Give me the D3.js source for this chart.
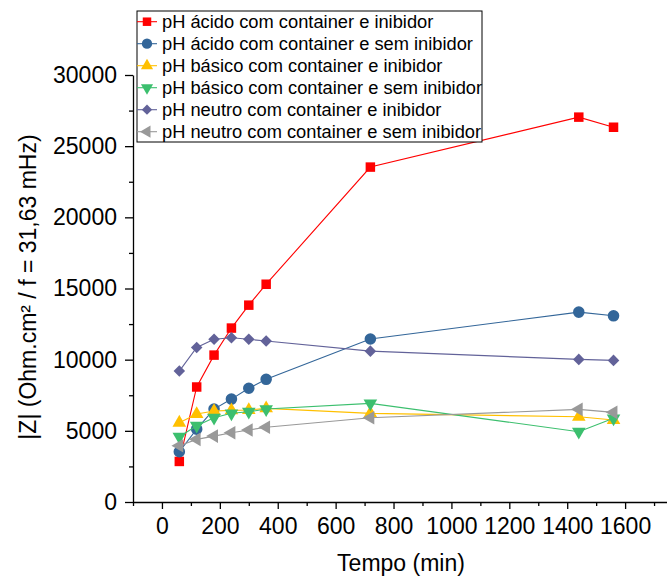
<!DOCTYPE html>
<html>
<head>
<meta charset="utf-8">
<script src="https://cdn.jsdelivr.net/npm/d3@7"></script>
<style>
  body { margin: 0; background: #fff; overflow: hidden; }
  svg { display: block; font-family: "Liberation Sans", Arial, sans-serif; }
</style>
</head>
<body>
<div id="chart-area"></div>
<script>
// dados
const tempos = [60, 120, 180, 240, 300, 360, 720, 1440, 1560];
const acidoComInibidor = [2850, 8080, 10320, 12220, 13830, 15300, 23530, 27040, 26330];
const acidoSemInibidor = [3530, 5120, 6530, 7230, 7990, 8620, 11450, 13340, 13080];
const basicoComInibidor = [5570, 6180, 6390, 6440, 6460, 6580, 6230, 5990, 5760];
const basicoSemInibidor = [4590, 5360, 5920, 6230, 6340, 6530, 6930, 4940, 5880];
const neutroComInibidor = [9200, 10860, 11430, 11540, 11430, 11310, 10600, 10020, 9950];
const neutroSemInibidor = [3950, 4400, 4630, 4870, 5060, 5250, 5920, 6510, 6300];
const xTicks = [0, 200, 400, 600, 800, 1000, 1200, 1400, 1600];
const yTicks = [0, 5000, 10000, 15000, 20000, 25000, 30000];

const series = [
    { name: 'pH ácido com container e inibidor', values: acidoComInibidor, color: '#ff0000', symbol: d3.symbolSquare, size: 90, rot: 0 },
    { name: 'pH ácido com container e sem inibidor', values: acidoSemInibidor, color: '#336699', symbol: d3.symbolCircle, size: 105, rot: 0 },
    { name: 'pH básico com container e inibidor', values: basicoComInibidor, color: '#ffc000', symbol: d3.symbolTriangle, size: 80, rot: 0 },
    { name: 'pH básico com container e sem inibidor', values: basicoSemInibidor, color: '#3cbf6e', symbol: d3.symbolTriangle, size: 80, rot: 180 },
    { name: 'pH neutro com container e inibidor', values: neutroComInibidor, color: '#626299', symbol: d3.symbolDiamond2, size: 85, rot: 0 },
    { name: 'pH neutro com container e sem inibidor', values: neutroSemInibidor, color: '#999999', symbol: d3.symbolTriangle, size: 80, rot: -90 }
];

const width = 667, height = 577;
// o eixo X continua além da borda direita, como no original
const margin = { top: 75, right: -16, bottom: 75, left: 133 };
const innerWidth = width - margin.left - margin.right;
const innerHeight = height - margin.top - margin.bottom;

const svg = d3.select('#chart-area').append('svg')
    .attr('width', width)
    .attr('height', height);

const g = svg.append('g')
    .attr('transform', `translate(${margin.left}, ${margin.top})`);

const xScale = d3.scaleLinear().domain([-100, 1800]).range([0, innerWidth]);
const yScale = d3.scaleLinear().domain([0, 30000]).range([innerHeight, 0]);

// eixo X
const axisX = g.append('g')
    .attr('transform', `translate(0, ${innerHeight})`)
    .call(d3.axisBottom(xScale).tickValues(xTicks).tickSize(7).tickPadding(9).tickSizeOuter(0).tickFormat(d3.format('d')));
axisX.selectAll('text').attr('font-size', '23px').attr('fill', '#000');
axisX.selectAll('line, path').attr('stroke', '#000').attr('stroke-width', 1.3);
// ticks menores X
g.append('g')
    .attr('transform', `translate(0, ${innerHeight})`)
    .call(d3.axisBottom(xScale).tickValues(d3.range(-100, 1800, 200)).tickSize(4).tickFormat(''))
    .call(a => a.select('.domain').remove())
    .call(a => a.selectAll('text').remove())
    .selectAll('line').attr('stroke', '#000').attr('stroke-width', 1.3);

// eixo Y
const axisY = g.append('g')
    .call(d3.axisLeft(yScale).tickValues(yTicks).tickSize(8).tickPadding(8).tickSizeOuter(0).tickFormat(d3.format('d')));
axisY.selectAll('text').attr('font-size', '23px').attr('fill', '#000');
axisY.selectAll('line, path').attr('stroke', '#000').attr('stroke-width', 1.3);
// ticks menores Y
g.append('g')
    .call(d3.axisLeft(yScale).tickValues(d3.range(2500, 30000, 5000)).tickSize(4).tickFormat(''))
    .call(a => a.select('.domain').remove())
    .call(a => a.selectAll('text').remove())
    .selectAll('line').attr('stroke', '#000').attr('stroke-width', 1.3);

// títulos dos eixos
svg.append('text')
    .attr('x', 401)
    .attr('y', 571)
    .attr('text-anchor', 'middle')
    .attr('font-size', '23px')
    .text('Tempo (min)');

svg.append('text')
    .attr('transform', `translate(36, 287) rotate(-90)`)
    .attr('text-anchor', 'middle')
    .attr('font-size', '23px')
    .text('|Z| (Ohm.cm² / f = 31,63 mHz)');

// linhas e marcadores
const line = d3.line()
    .x((d, i) => xScale(tempos[i]))
    .y(d => yScale(d));

series.forEach(s => {
    g.append('path')
        .datum(s.values)
        .attr('fill', 'none')
        .attr('stroke', s.color)
        .attr('stroke-width', 1.1)
        .attr('d', line);

    g.selectAll(null)
        .data(s.values)
        .enter()
        .append('path')
        .attr('d', d3.symbol().type(s.symbol).size(s.size))
        .attr('transform', (d, i) => `translate(${xScale(tempos[i])}, ${yScale(d)}) rotate(${s.rot})`)
        .attr('fill', s.color);
});

// legenda
const legend = svg.append('g').attr('transform', 'translate(137, 11)');
legend.append('rect')
    .attr('width', 345)
    .attr('height', 131)
    .attr('fill', '#fff')
    .attr('stroke', '#000')
    .attr('stroke-width', 1);

series.forEach((s, i) => {
    const row = legend.append('g').attr('transform', `translate(0, ${10.7 + i * 22})`);
    row.append('line')
        .attr('x1', 0).attr('x2', 20)
        .attr('stroke', s.color).attr('stroke-width', 1.1);
    row.append('path')
        .attr('d', d3.symbol().type(s.symbol).size(s.size * 0.8))
        .attr('transform', `translate(10, 0) rotate(${s.rot})`)
        .attr('fill', s.color);
    row.append('text')
        .attr('x', 25)
        .attr('dy', '0.35em')
        .attr('font-size', '18.3px')
        .text(s.name);
});
</script>
</body>
</html>
